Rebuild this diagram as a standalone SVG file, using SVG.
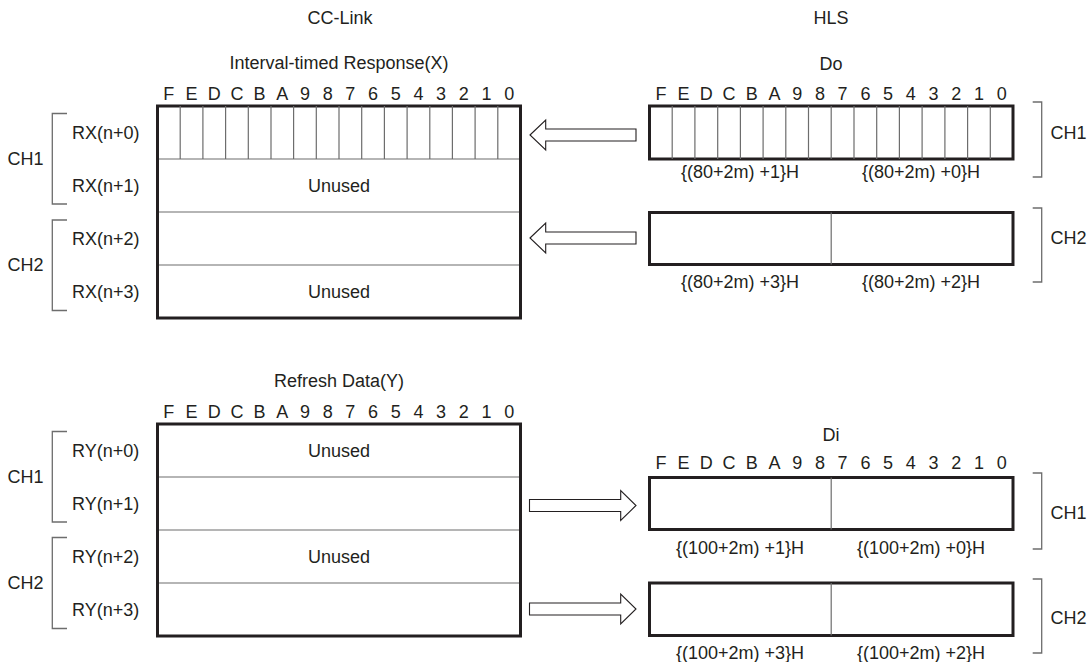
<svg xmlns="http://www.w3.org/2000/svg" width="1091" height="662" viewBox="0 0 1091 662">
<style>
text{font-family:"Liberation Sans",Arial,sans-serif;font-size:18px;fill:#231f20}
.c{text-anchor:middle}
.box{fill:#fff;stroke:#231f20;stroke-width:3}
.thin{stroke:#6d6d6d;stroke-width:1.2;fill:none}
.brk{stroke:#6d6d6d;stroke-width:1.3;fill:none}
.arr{fill:#fff;stroke:#231f20;stroke-width:1.1;stroke-linejoin:miter}
</style>
<defs>
<polygon id="arrL" class="arr" points="0,0 15.7,-15 15.7,-6 106,-6 106,6 15.7,6 15.7,15"/>
<polygon id="arrR" class="arr" points="0,-6 91.2,-6 91.2,-15 106.5,0 91.2,15 91.2,6 0,6"/>
</defs>

<g id="headers">
<text class="c" x="340" y="23.5">CC-Link</text>
<text class="c" x="831" y="23.5">HLS</text>
</g>

<!-- Top left: Interval-timed Response(X) -->
<g id="rx-table">
<text class="c" x="339" y="69">Interval-timed Response(X)</text>
<g class="c">
<text x="168.8" y="100">F</text><text x="191.5" y="100">E</text><text x="214.2" y="100">D</text><text x="236.9" y="100">C</text>
<text x="259.6" y="100">B</text><text x="282.3" y="100">A</text><text x="305" y="100">9</text><text x="327.7" y="100">8</text>
<text x="350.3" y="100">7</text><text x="373" y="100">6</text><text x="395.7" y="100">5</text><text x="418.4" y="100">4</text>
<text x="441.1" y="100">3</text><text x="463.8" y="100">2</text><text x="486.5" y="100">1</text><text x="509.2" y="100">0</text>
</g>
<rect class="box" x="157.5" y="106" width="363" height="212"/>
<path class="thin" d="M180.2 106V159M202.9 106V159M225.6 106V159M248.3 106V159M271 106V159M293.6 106V159M316.3 106V159M339 106V159M361.7 106V159M384.4 106V159M407.1 106V159M429.8 106V159M452.4 106V159M475.1 106V159M497.8 106V159"/>
<path class="thin" d="M159 159H519M159 212H519M159 265H519"/>
<text class="c" x="339" y="192">Unused</text>
<text class="c" x="339" y="298">Unused</text>
<text x="72" y="139">RX(n+0)</text>
<text x="72" y="192">RX(n+1)</text>
<text x="72" y="245">RX(n+2)</text>
<text x="72" y="298">RX(n+3)</text>
<path class="brk" d="M67 113.5H52.3V204H67M67 220H52.3V310.5H67"/>
<text x="7.5" y="165">CH1</text>
<text x="7.5" y="271">CH2</text>
</g>

<!-- Top right: Do -->
<g id="do-table">
<text class="c" x="831" y="70">Do</text>
<g class="c">
<text x="660.9" y="100">F</text><text x="683.6" y="100">E</text><text x="706.3" y="100">D</text><text x="729" y="100">C</text>
<text x="751.8" y="100">B</text><text x="774.5" y="100">A</text><text x="797.2" y="100">9</text><text x="819.9" y="100">8</text>
<text x="842.6" y="100">7</text><text x="865.4" y="100">6</text><text x="888.1" y="100">5</text><text x="910.8" y="100">4</text>
<text x="933.5" y="100">3</text><text x="956.2" y="100">2</text><text x="979" y="100">1</text><text x="1001.7" y="100">0</text>
</g>
<rect class="box" x="649.5" y="106" width="363.5" height="53"/>
<path class="thin" d="M672.2 106V159M694.9 106V159M717.7 106V159M740.4 106V159M763.1 106V159M785.8 106V159M808.5 106V159M831.2 106V159M854 106V159M876.7 106V159M899.4 106V159M922.1 106V159M944.9 106V159M967.6 106V159M990.3 106V159"/>
<text class="c" x="740" y="178">{(80+2m) +1}H</text>
<text class="c" x="921" y="178">{(80+2m) +0}H</text>
<rect class="box" x="649.5" y="212.5" width="363.5" height="52"/>
<path class="thin" d="M831.2 212.5V264.5"/>
<text class="c" x="740" y="288">{(80+2m) +3}H</text>
<text class="c" x="921" y="288">{(80+2m) +2}H</text>
<path class="brk" d="M1032.7 102H1041.7V177H1032.7M1032.7 208H1041.7V282H1032.7"/>
<text x="1050.5" y="139">CH1</text>
<text x="1050.5" y="244">CH2</text>
</g>

<!-- Bottom left: Refresh Data(Y) -->
<g id="ry-table">
<text class="c" x="339" y="387">Refresh Data(Y)</text>
<g class="c">
<text x="168.8" y="418">F</text><text x="191.5" y="418">E</text><text x="214.2" y="418">D</text><text x="236.9" y="418">C</text>
<text x="259.6" y="418">B</text><text x="282.3" y="418">A</text><text x="305" y="418">9</text><text x="327.7" y="418">8</text>
<text x="350.3" y="418">7</text><text x="373" y="418">6</text><text x="395.7" y="418">5</text><text x="418.4" y="418">4</text>
<text x="441.1" y="418">3</text><text x="463.8" y="418">2</text><text x="486.5" y="418">1</text><text x="509.2" y="418">0</text>
</g>
<rect class="box" x="157.5" y="424" width="363" height="212"/>
<path class="thin" d="M159 477H519M159 530H519M159 583H519"/>
<text class="c" x="339" y="457">Unused</text>
<text class="c" x="339" y="563">Unused</text>
<text x="72" y="457">RY(n+0)</text>
<text x="72" y="510">RY(n+1)</text>
<text x="72" y="563">RY(n+2)</text>
<text x="72" y="616">RY(n+3)</text>
<path class="brk" d="M67 431.5H52.3V522H67M67 537.5H52.3V628.5H67"/>
<text x="7.5" y="483">CH1</text>
<text x="7.5" y="589">CH2</text>
</g>

<!-- Bottom right: Di -->
<g id="di-table">
<text class="c" x="831" y="441">Di</text>
<g class="c">
<text x="660.9" y="469">F</text><text x="683.6" y="469">E</text><text x="706.3" y="469">D</text><text x="729" y="469">C</text>
<text x="751.8" y="469">B</text><text x="774.5" y="469">A</text><text x="797.2" y="469">9</text><text x="819.9" y="469">8</text>
<text x="842.6" y="469">7</text><text x="865.4" y="469">6</text><text x="888.1" y="469">5</text><text x="910.8" y="469">4</text>
<text x="933.5" y="469">3</text><text x="956.2" y="469">2</text><text x="979" y="469">1</text><text x="1001.7" y="469">0</text>
</g>
<rect class="box" x="649.5" y="477.5" width="363.5" height="52"/>
<path class="thin" d="M831.2 477.5V529.5"/>
<text class="c" x="740" y="554">{(100+2m) +1}H</text>
<text class="c" x="921" y="554">{(100+2m) +0}H</text>
<rect class="box" x="649.5" y="583" width="363.5" height="52.5"/>
<path class="thin" d="M831.2 583V635.5"/>
<text class="c" x="740" y="659">{(100+2m) +3}H</text>
<text class="c" x="921" y="659">{(100+2m) +2}H</text>
<path class="brk" d="M1032.7 473H1041.7V549H1032.7M1032.7 579H1041.7V653H1032.7"/>
<text x="1050.5" y="519">CH1</text>
<text x="1050.5" y="624">CH2</text>
</g>

<g id="connectors">
<use href="#arrL" x="530" y="135"/>
<use href="#arrL" x="530" y="238"/>
<use href="#arrR" x="529.5" y="505.5"/>
<use href="#arrR" x="529.5" y="609"/>
</g>
</svg>
